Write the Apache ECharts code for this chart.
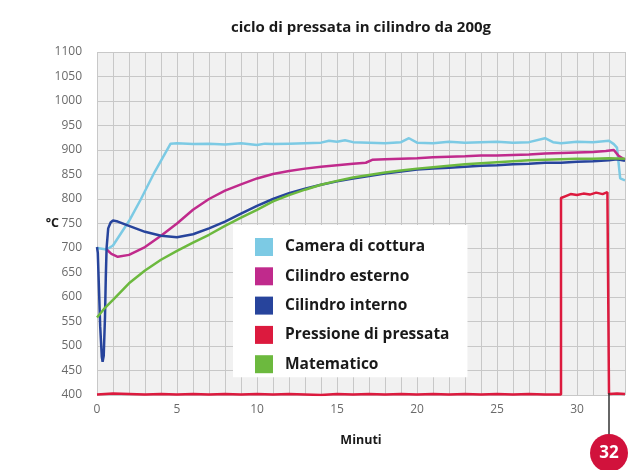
<!DOCTYPE html>
<html>
<head>
<meta charset="utf-8">
<script src="https://cdn.jsdelivr.net/npm/echarts@6/dist/echarts.min.js"></script>
<style>
html,body{margin:0;padding:0;background:#fff;}
#c{width:629px;height:470px;}
</style>
</head>
<body>
<div id="c"></div>
<script>
const chartTitle = 'ciclo di pressata in cilindro da 200g';
const yAxisName = '°C';
const seriesNames = ['Camera di cottura', 'Cilindro esterno', 'Cilindro interno', 'Pressione di pressata', 'Matematico'];
const seriesColors = ['#7ccae4', '#c02a8c', '#27449c', '#dc1a3e', '#6cb93e'];
const xTickLabels = [0, 5, 10, 15, 20, 25, 30];
const markerMinute = 32;

const camT = [0, 0.6, 1.0, 2.0, 2.75, 3.6, 4.6, 5, 6, 7, 8, 9, 10, 10.5, 11, 12, 13, 14, 14.5, 15, 15.5, 16, 17, 18, 19, 19.5, 20, 21, 22, 23, 24, 25, 26, 27, 28, 28.5, 29, 30, 31, 32, 32.3, 32.5, 32.7, 33];
const camV = [700, 697, 705, 755, 800, 855, 913, 914, 912, 913, 911, 914, 910, 913, 912, 913, 914, 915, 919, 917, 920, 916, 915, 914, 916, 924, 915, 914, 917, 915, 916, 917, 915, 916, 924, 916, 914, 917, 916, 919, 912, 905, 842, 838];

const extT = [0.6, 0.9, 1.3, 2, 3, 4, 5, 6, 7, 8, 9, 10, 11, 12, 13, 14, 15, 16, 16.8, 17.2, 18, 19, 20, 21, 22, 23, 24, 25, 26, 27, 28, 29, 30, 31, 31.8, 32.3, 32.6, 33];
const extV = [697, 688, 682, 686, 702, 725, 750, 778, 800, 817, 830, 842, 851, 857, 862, 866, 869, 872, 874, 880, 881, 882, 883, 885, 886, 887, 889, 889, 890, 891, 893, 894, 895, 896, 898, 900, 888, 880];

const intT = [0, 0.05, 0.1, 0.2, 0.3, 0.35, 0.42, 0.5, 0.55, 0.6, 0.7, 0.85, 1.0, 1.3, 2, 3, 4, 5, 6, 7, 8, 9, 10, 11, 12, 13, 14, 15, 16, 17, 18, 19, 20, 21, 22, 23, 24, 25, 26, 27, 28, 29, 30, 31, 32, 32.5, 33];
const intV = [702, 690, 640, 540, 478, 468, 480, 560, 640, 700, 740, 752, 756, 754, 745, 733, 725, 722, 728, 740, 754, 770, 786, 800, 812, 821, 829, 836, 842, 847, 852, 856, 860, 862, 864, 866, 868, 869, 871, 872, 874, 874, 876, 877, 879, 881, 878];

const presT = [0, 1, 2, 3, 4, 5, 6, 7, 8, 9, 10, 11, 12, 13, 14, 15, 16, 17, 18, 19, 20, 21, 22, 23, 24, 25, 26, 27, 28, 29, 29, 29.3, 29.6, 30, 30.4, 30.8, 31.2, 31.6, 31.9, 32, 32, 32.5, 33];
const presV = [401, 403, 402, 401, 402, 401, 402, 401, 402, 401, 402, 401, 402, 401, 400, 402, 401, 402, 401, 402, 401, 402, 401, 402, 401, 402, 401, 402, 401, 401, 802, 806, 810, 808, 811, 809, 813, 810, 814, 812, 402, 403, 402];

const matT = [0, 0.5, 1, 2, 3, 4, 5, 6, 7, 8, 9, 10, 11, 12, 13, 14, 15, 16, 17, 18, 19, 20, 21, 22, 23, 24, 25, 26, 27, 28, 29, 30, 31, 32, 33];
const matV = [558, 578, 594, 628, 654, 676, 694, 711, 727, 745, 762, 778, 795, 808, 819, 829, 837, 844, 849, 854, 858, 862, 865, 868, 871, 873, 875, 877, 879, 880, 881, 882, 882, 883, 882];

function zip(t, v) { return t.map((x, i) => [x, v[i]]); }
const allData = [zip(camT, camV), zip(extT, extV), zip(intT, intV), zip(presT, presV), zip(matT, matV)];

const X_MIN = 0, X_MAX = 33, Y_MIN = 400, Y_MAX = 1100;
const minuteLines = [];
for (let m = X_MIN; m <= X_MAX; m++) minuteLines.push({xAxis: m});

const FONT = 'Open Sans';
const GRIDC = '#c8c8c8';
const GRID_LEFT = 97;
const chart = echarts.init(document.getElementById('c'), null, {renderer: 'canvas'});

const series = seriesNames.map((n, i) => ({
  name: n, type: 'line', data: allData[i], showSymbol: false, symbol: 'none',
  color: seriesColors[i],
  lineStyle: {width: 2.5, color: seriesColors[i]},
  z: 3 + i
}));
series.unshift({
  name: '_grid', type: 'line', data: [], z: 1, silent: true,
  markLine: {silent: true, symbol: 'none', animation: false, z: 1, label: {show: false},
    lineStyle: {color: GRIDC, width: 1, type: 'solid'}, emphasis: {disabled: true},
    data: minuteLines}
});

const option = {
  animation: false,
  backgroundColor: '#ffffff',
  title: {
    text: chartTitle,
    left: 356, top: 15, textAlign: 'center',
    textStyle: {fontFamily: FONT, fontWeight: 'bold', fontSize: 15, color: '#1a1a1a'}
  },
  grid: {left: GRID_LEFT, right: 4, top: 52, bottom: 75, show: true, backgroundColor: '#f1f1f1', borderWidth: 0},
  legend: {
    z: 50,
    orient: 'vertical', left: 233, top: 225,
    backgroundColor: '#ffffff',
    padding: [13, 18, 4, 22],
    itemWidth: 18, itemHeight: 18, itemGap: 11.3,
    icon: 'rect',
    data: seriesNames,
    textStyle: {fontFamily: FONT, fontWeight: 'bold', fontSize: 15.5, color: '#1a1a1a', padding: [0, 0, 0, 7]}
  },
  xAxis: {
    type: 'value', min: X_MIN, max: X_MAX, interval: 5,
    name: 'Minuti', nameLocation: 'middle', nameGap: 39,
    nameTextStyle: {fontFamily: FONT, fontWeight: 'bold', fontSize: 12.5, color: '#1a1a1a'},
    axisLine: {show: false}, axisTick: {show: false},
    axisLabel: {margin: 9, fontFamily: FONT, fontSize: 12, color: '#6a6a6a', showMaxLabel: false,
      formatter: v => xTickLabels.indexOf(v) >= 0 ? String(v) : ''},
    splitLine: {show: false}
  },
  yAxis: {
    type: 'value', min: Y_MIN, max: Y_MAX, interval: 50,
    axisLine: {show: false}, axisTick: {show: false},
    axisLabel: {margin: 15, fontFamily: FONT, fontSize: 12, color: '#6a6a6a', formatter: v => String(v)},
    splitLine: {show: true, lineStyle: {color: GRIDC, width: 1}}
  },
  series: series
};
chart.setOption(option);

const px = chart.convertToPixel({xAxisIndex: 0}, markerMinute);
const pyBase = chart.convertToPixel({yAxisIndex: 0}, Y_MIN);
const pyTop = chart.convertToPixel({yAxisIndex: 0}, Y_MAX);
chart.setOption({
  graphic: [
    {type: 'text', z: 100, x: GRID_LEFT - 38, y: (pyBase + pyTop) / 2, style: {text: yAxisName, fill: '#1a1a1a', font: 'bold 12.5px "Open Sans"', textAlign: 'right', textVerticalAlign: 'middle'}},
    {type: 'line', z: 100, shape: {x1: px, y1: pyBase - 2, x2: px, y2: pyBase + 42}, style: {stroke: '#333333', lineWidth: 1.5}},
    {type: 'circle', z: 101, shape: {cx: px, cy: pyBase + 58, r: 19}, style: {fill: '#d1123c'}},
    {type: 'text', z: 102, x: px, y: pyBase + 58, style: {text: String(markerMinute), fill: '#ffffff', font: 'bold 17px "Open Sans"', textAlign: 'center', textVerticalAlign: 'middle'}}
  ]
});
</script>
</body>
</html>
